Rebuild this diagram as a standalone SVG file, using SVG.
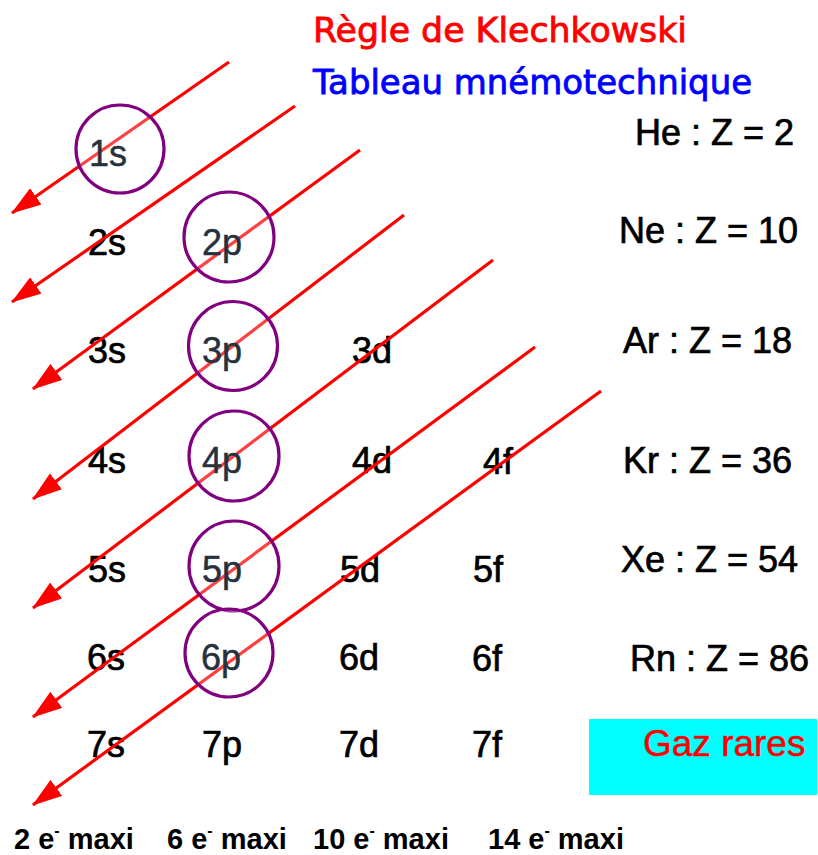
<svg xmlns="http://www.w3.org/2000/svg" width="818" height="855" viewBox="0 0 818 855">
<style>
.lbl{font-family:"Liberation Sans",Arial,sans-serif;font-size:36px;fill:#000;stroke:#000;stroke-width:0.7}
.clbl{font-family:"Liberation Sans",Arial,sans-serif;font-size:36px;fill:#27313d;stroke:#27313d;stroke-width:0.5}
.gas{font-family:"Liberation Sans",Arial,sans-serif;font-size:36px;fill:#000;stroke:#000;stroke-width:0.7}
.bot{font-family:"Liberation Sans",Arial,sans-serif;font-size:29px;font-weight:bold;fill:#000}
.title{font-family:"DejaVu Sans","Liberation Sans",sans-serif;font-size:33px;stroke-width:0.8}
.arr{stroke:#ff0000;stroke-width:3.2;fill:none;marker-end:url(#ah)}
.orb{fill:#ffffff;fill-opacity:0.25;stroke:#800080;stroke-width:3.2}
</style>
<defs>
<marker id="ah" viewBox="0 0 30 20" refX="29" refY="10" markerWidth="30" markerHeight="20" markerUnits="userSpaceOnUse" orient="auto">
<path d="M0,0 L30,10 L0,20 Z" fill="#ff0000"/>
</marker>
</defs>
<rect width="818" height="855" fill="#ffffff"/>
<text class="title" x="313" y="42" fill="#ff0000" stroke="#ff0000" textLength="374" lengthAdjust="spacingAndGlyphs">Règle de Klechkowski</text>
<text class="title" x="313" y="94" fill="#0000ff" stroke="#0000ff" textLength="439" lengthAdjust="spacingAndGlyphs">Tableau mnémotechnique</text>
<g id="labels">
<text class="lbl" x="88" y="255">2s</text>
<text class="lbl" x="88" y="363">3s</text>
<text class="lbl" x="352" y="363">3d</text>
<text class="lbl" x="88" y="473">4s</text>
<text class="lbl" x="352" y="473">4d</text>
<text class="lbl" x="483" y="474">4f</text>
<text class="lbl" x="88" y="582">5s</text>
<text class="lbl" x="340" y="582">5d</text>
<text class="lbl" x="473" y="582">5f</text>
<text class="lbl" x="87" y="670">6s</text>
<text class="lbl" x="339" y="670">6d</text>
<text class="lbl" x="472" y="671">6f</text>
<text class="lbl" x="87" y="757">7s</text>
<text class="lbl" x="202" y="757">7p</text>
<text class="lbl" x="339" y="757">7d</text>
<text class="lbl" x="472" y="757">7f</text>
</g>
<g id="connectors">
<line class="arr" x1="229" y1="62" x2="12" y2="213"/>
<line class="arr" x1="295" y1="106" x2="12" y2="302"/>
<line class="arr" x1="360" y1="150" x2="33" y2="389"/>
<line class="arr" x1="404" y1="215" x2="33" y2="499"/>
<line class="arr" x1="493" y1="260" x2="33" y2="608"/>
<line class="arr" x1="535" y1="347" x2="33" y2="717"/>
<line class="arr" x1="601" y1="391" x2="33" y2="805"/>
</g>
<g id="n1s"><circle class="orb" cx="120" cy="149" r="44"/><text class="clbl" x="89" y="166">1s</text></g>
<g id="n2p"><circle class="orb" cx="229" cy="237" r="45"/><text class="clbl" x="202" y="255">2p</text></g>
<g id="n3p"><circle class="orb" cx="233" cy="346" r="44.5"/><text class="clbl" x="202" y="363">3p</text></g>
<g id="n4p"><circle class="orb" cx="234" cy="456" r="45"/><text class="clbl" x="202" y="473">4p</text></g>
<g id="n5p"><circle class="orb" cx="234" cy="566" r="45"/><text class="clbl" x="202" y="582">5p</text></g>
<g id="n6p"><circle class="orb" cx="229" cy="653" r="44"/><text class="clbl" x="201" y="670">6p</text></g>
<g id="gases">
<text class="gas" x="635" y="145">He : Z = 2</text>
<text class="gas" x="619" y="243">Ne : Z = 10</text>
<text class="gas" x="623" y="353">Ar : Z = 18</text>
<text class="gas" x="623" y="473">Kr : Z = 36</text>
<text class="gas" x="621" y="572">Xe : Z = 54</text>
<text class="gas" x="630" y="671">Rn : Z = 86</text>
</g>
<g id="legend">
<rect x="589" y="719" width="228" height="76" fill="#00ffff"/>
<text x="643" y="756" font-family="Liberation Sans, Arial, sans-serif" font-size="37" fill="#ff0000" stroke="#ff0000" stroke-width="0.5">Gaz rares</text>
</g>
<g id="maxi">
<text class="bot" x="14" y="849">2 e<tspan font-size="16" dy="-13">-</tspan><tspan dy="13"> maxi</tspan></text>
<text class="bot" x="167" y="849">6 e<tspan font-size="16" dy="-13">-</tspan><tspan dy="13"> maxi</tspan></text>
<text class="bot" x="313" y="849">10 e<tspan font-size="16" dy="-13">-</tspan><tspan dy="13"> maxi</tspan></text>
<text class="bot" x="488" y="849">14 e<tspan font-size="16" dy="-13">-</tspan><tspan dy="13"> maxi</tspan></text>
</g>
</svg>
